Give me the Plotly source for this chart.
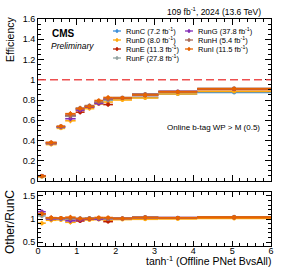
import plotly.graph_objects as go

# ---------------- data ----------------
bin_edges = [0.0, 0.2, 0.48, 0.7, 0.97, 1.2, 1.45, 1.68, 1.93, 2.42, 3.1, 4.1, 6.0]

runs = ["RunC", "RunD", "RunE", "RunF", "RunG", "RunH", "RunI"]
lumis = ["7.2", "8.0", "11.3", "27.8", "37.8", "5.4", "11.5"]
colors = ["#3f90da", "#ffa90e", "#bd1f01", "#94a4a2", "#832db6", "#a96b59", "#e76300"]

eff_RunC = [0.045, 0.370, 0.530, 0.640, 0.710, 0.730, 0.770, 0.800, 0.810, 0.825, 0.860, 0.875]
eff_RunD = [0.041, 0.360, 0.520, 0.595, 0.700, 0.715, 0.760, 0.780, 0.800, 0.820, 0.860, 0.885]
eff_RunE = [0.050, 0.380, 0.535, 0.650, 0.680, 0.735, 0.775, 0.755, 0.820, 0.845, 0.880, 0.905]
eff_RunF = [0.048, 0.375, 0.530, 0.640, 0.715, 0.740, 0.775, 0.800, 0.820, 0.850, 0.880, 0.910]
eff_RunG = [0.052, 0.370, 0.535, 0.615, 0.700, 0.730, 0.765, 0.810, 0.820, 0.855, 0.885, 0.910]
eff_RunH = [0.050, 0.375, 0.540, 0.645, 0.720, 0.745, 0.780, 0.810, 0.825, 0.860, 0.885, 0.915]
eff_RunI = [0.050, 0.380, 0.540, 0.665, 0.715, 0.735, 0.795, 0.825, 0.820, 0.850, 0.880, 0.910]

err_eff = [0.008, 0.018, 0.016, 0.025, 0.022, 0.020, 0.020, 0.022, 0.012, 0.012, 0.010, 0.010]

effs = [eff_RunC, eff_RunD, eff_RunE, eff_RunF, eff_RunG, eff_RunH, eff_RunI]

centers = [(a + b) / 2 for a, b in zip(bin_edges[:-1], bin_edges[1:])]
halfw = [(b - a) / 2 for a, b in zip(bin_edges[:-1], bin_edges[1:])]

FONT = "Liberation Sans"

fig = go.Figure()

for name, col, eff in zip(runs, colors, effs):
    fig.add_trace(go.Scatter(
        x=centers, y=eff, mode="markers", xaxis="x", yaxis="y",
        marker=dict(color=col, size=4),
        error_x=dict(type="data", array=halfw, color=col, thickness=1.6, width=0),
        error_y=dict(type="data", array=err_eff, color=col, thickness=1.2, width=0),
        showlegend=False, name=name))

for name, col, eff in zip(runs[1:], colors[1:], effs[1:]):
    ratio = [e / c for e, c in zip(eff, eff_RunC)]
    rerr = [r * 1.4 * de / e for r, de, e in zip(ratio, err_eff, eff)]
    rerr = [min(x, 0.05) for x in rerr]
    fig.add_trace(go.Scatter(
        x=centers, y=ratio, mode="markers", xaxis="x2", yaxis="y2",
        marker=dict(color=col, size=4),
        error_x=dict(type="data", array=halfw, color=col, thickness=1.6, width=0),
        error_y=dict(type="data", array=rerr, color=col, thickness=1.2, width=0),
        showlegend=False, name=name))

# ---------------- layout ----------------
W, H = 285, 268
L, R, T, B = 38, 14, 19, 22
pw, ph = W - L - R, H - T - B


def px(x):
    return (x - L) / pw


def py(y):
    return (H - B - y) / ph


top_lo = py(181)
bot_hi = py(192)

axis_common = dict(showline=True, linecolor="black", linewidth=1, mirror="ticks",
                   ticks="inside", tickcolor="black", showgrid=False, zeroline=False,
                   tickfont=dict(family=FONT, size=9, color="black"))

fig.update_layout(
    width=W, height=H, margin=dict(l=L, r=R, t=T, b=B),
    paper_bgcolor="white", plot_bgcolor="white",
    font=dict(family=FONT, color="black"),
    xaxis=dict(domain=[0, 1], range=[0, 6], anchor="y", showticklabels=False,
               dtick=1, ticklen=6, minor=dict(ticks="inside", dtick=0.2, ticklen=3, tickcolor="black"),
               **axis_common),
    yaxis=dict(domain=[top_lo, 1], range=[0, 1.6], anchor="x", dtick=0.2, ticklen=6,
               minor=dict(ticks="inside", dtick=0.05, ticklen=3, tickcolor="black"),
               **axis_common),
    xaxis2=dict(domain=[0, 1], range=[0, 6], anchor="y2", dtick=1, ticklen=5,
                ticklabelstandoff=-4,
                minor=dict(ticks="inside", dtick=0.2, ticklen=3, tickcolor="black"),
                **axis_common),
    yaxis2=dict(domain=[0, bot_hi], range=[0.42, 1.58], anchor="x2", tickvals=[0.5, 1, 1.5],
                ticktext=["0.5", "1", "1.5"], ticklen=5,
                minor=dict(ticks="inside", dtick=0.1, ticklen=3, tickcolor="black"),
                **axis_common),
)

# dashed line at efficiency 1
fig.add_shape(type="line", xref="x", yref="y", x0=0, x1=6, y0=1, y1=1,
              line=dict(color="rgba(235,60,60,0.9)", width=1.5, dash="8px,4px"))

ann = []


def add_text(x, y, text, size, xanchor="left", yanchor="middle", **kw):
    ann.append(dict(x=px(x), y=py(y), xref="paper", yref="paper", text=text,
                    showarrow=False, xanchor=xanchor, yanchor=yanchor,
                    font=dict(family=FONT, size=size, color="black"), **kw))


add_text(263, 12, "109 fb<sup>-1</sup>, 2024 (13.6 TeV)", 8.5, xanchor="right")
add_text(50, 33, "<b>CMS</b>", 10)
add_text(49, 46, "<i>Preliminary</i>", 8.5)
add_text(262, 128, "Online b-tag WP > M (0.5)", 8, xanchor="right")
add_text(272, 260.5, "tanh<sup>-1</sup> (Offline PNet BvsAll)", 10.5, xanchor="right",
         borderpad=0)
add_text(10, 40, "Efficiency", 10.5, xanchor="center", textangle=-90)
add_text(10, 222, "Other/RunC", 12, xanchor="center", textangle=-90)

# manual two-column legend
leg_pos = [(117, 31), (117, 40), (117, 49), (117, 58), (189, 31), (189, 40), (189, 49)]
for (lx, ly), name, lumi, col in zip(leg_pos, runs, lumis, colors):
    fig.add_shape(type="line", xref="paper", yref="paper",
                  x0=px(lx - 4), x1=px(lx + 4), y0=py(ly), y1=py(ly),
                  line=dict(color=col, width=1.3))
    fig.add_shape(type="line", xref="paper", yref="paper",
                  x0=px(lx), x1=px(lx), y0=py(ly - 2), y1=py(ly + 2),
                  line=dict(color=col, width=1.2))
    fig.add_shape(type="circle", xref="paper", yref="paper",
                  x0=px(lx - 1.5), x1=px(lx + 1.5), y0=py(ly - 1.5), y1=py(ly + 1.5),
                  fillcolor=col, line=dict(color=col, width=0))
    add_text(lx + 7, ly, f"{name} ({lumi} fb<sup>-1</sup>)", 7.5)

fig.update_layout(annotations=ann)

fig.write_html("out.html", config={"displayModeBar": False},
               post_script="document.body.style.margin='0px';")
